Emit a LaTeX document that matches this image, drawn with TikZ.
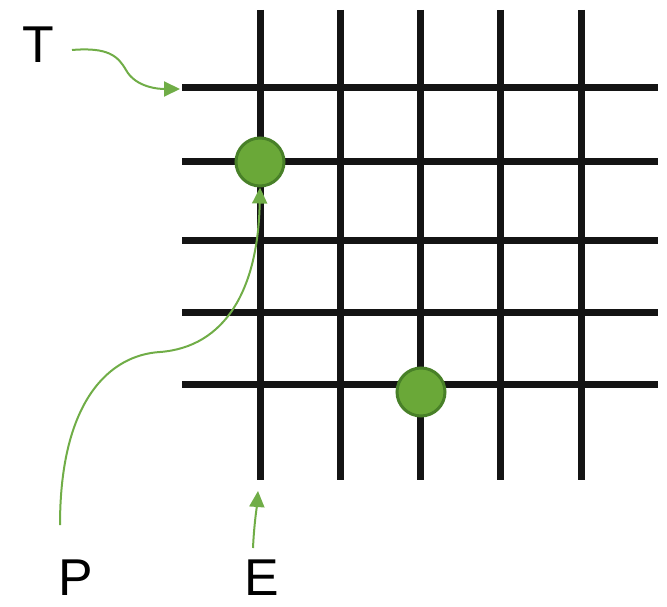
\documentclass[tikz,border=0pt]{standalone}
\usepackage{fontspec}
\setmainfont{Liberation Sans}
\usetikzlibrary{arrows.meta}
\definecolor{dotgreen}{RGB}{106,168,56}
\definecolor{dotrim}{RGB}{72,128,40}
\definecolor{arrowgreen}{RGB}{112,173,71}
\begin{document}
\begin{tikzpicture}[x=1bp, y=-1bp, every node/.style={font=\fontsize{52}{58}\selectfont},
    gridline/.style={line width=7bp, black!92},
    marker/.style={circle, fill=dotgreen, draw=dotrim, line width=3bp, minimum size=48bp, inner sep=0pt},
    letter/.style={anchor=base, inner sep=0pt},
    pointer/.style={arrowgreen, line width=2bp, -{Triangle[length=16bp, width=15bp]}}]
  \useasboundingbox (0,0) rectangle (667,607);
  % grid
  \foreach \x in {260,340,420,500,581}
    \draw[gridline] (\x,10) -- (\x,480);
  \foreach \y in {88,162,240,312,384}
    \draw[gridline] (182,\y) -- (658,\y);
  % points on the grid
  \node[marker] (dotA) at (260,162) {};
  \node[marker] (dotB) at (421,392) {};
  % labels
  \node[letter] (T) at (38,63) {T};
  \node[letter] (P) at (76,595) {P};
  \node[letter] (E) at (262,595) {E};
  \coordinate (Tstart) at (72,50);
  \coordinate (rowtop) at (180,89);
  \coordinate (Pstart) at (60,525);
  \coordinate (Estart) at (253,548);
  \coordinate (colfoot) at (258,491);
  % pointers
  \draw[pointer] (Tstart) .. controls (108,47) and (118,56) .. (126,70)
    .. controls (136,88) and (160,89) .. (rowtop);
  \draw[pointer] (Pstart) .. controls (60,400) and (110,355) .. (160,352)
    .. controls (225,347) and (258,290) .. (dotA.south);
  \draw[pointer] (Estart) .. controls (254,525) and (257,505) .. (colfoot);
\end{tikzpicture}
\end{document}
